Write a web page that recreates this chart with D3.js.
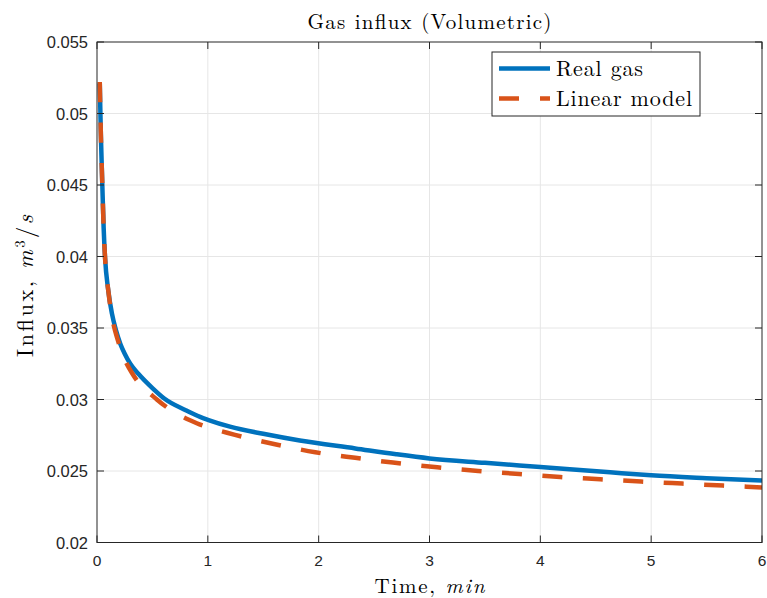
<!DOCTYPE html>
<html><head><meta charset="utf-8">
<script src="https://cdn.jsdelivr.net/npm/d3@7"></script>
<style>body{margin:0;background:#fff}</style>
</head><body>
<svg id="c" width="767" height="598"></svg>
<script>
const realT = [0.025,0.035,0.048,0.06,0.072,0.102,0.135,0.169,0.21,0.25,0.3,0.373,0.5,0.61,0.8,0.93,1.0,1.2,1.5,1.83,2.33,2.7,3.0,3.5,4.0,4.63,5.0,5.5,6.0];
const realY = [0.0521,0.0485,0.045,0.042,0.040,0.0376,0.0360,0.0349,0.0339,0.0332,0.0325,0.0318,0.0308,0.03005,0.02925,0.02878,0.02858,0.0281,0.0276,0.02713,0.02658,0.02617,0.02588,0.02557,0.02528,0.02491,0.02470,0.02450,0.02433];
const linT = [0.025,0.035,0.048,0.06,0.072,0.102,0.135,0.19,0.25,0.32,0.54,0.7,0.9,1.245,1.606,1.97,2.33,2.67,3.07,3.44,3.81,4.18,4.54,4.91,5.28,5.65,6.0];
const linY = [0.0522,0.0485,0.045,0.042,0.0400,0.0376,0.0358,0.0341,0.0328,0.0318,0.0300,0.0291,0.02834,0.02753,0.02687,0.02631,0.02592,0.02559,0.02526,0.0250,0.02479,0.02458,0.02442,0.02426,0.02412,0.02398,0.02385];
const xTicks = [0,1,2,3,4,5,6];
const yTicks = [0.02,0.025,0.03,0.035,0.04,0.045,0.05,0.055];
const yTickLabels = ["0.02","0.025","0.03","0.035","0.04","0.045","0.05","0.055"];
const seriesNames = ["Real gas","Linear model"];
const colors = ["#0072BD","#D95319"];

const svg = d3.select("#c");
const L=97, R=762, T=42, B=542.5;
const x = d3.scaleLinear().domain([0,6]).range([L,R]);
const y = d3.scaleLinear().domain([0.02,0.055]).range([B,T]);
const axisCol = "#262626";

const g = svg.append("g");
g.selectAll(".gx").data(xTicks.slice(1,-1)).join("line")
  .attr("x1",d=>x(d)).attr("x2",d=>x(d)).attr("y1",T).attr("y2",B)
  .attr("stroke","#e6e6e6").attr("stroke-width",1);
g.selectAll(".gy").data(yTicks.slice(1,-1)).join("line")
  .attr("y1",d=>y(d)).attr("y2",d=>y(d)).attr("x1",L).attr("x2",R)
  .attr("stroke","#e6e6e6").attr("stroke-width",1);

svg.append("clipPath").attr("id","clip").append("rect").attr("x",L).attr("y",T).attr("width",R-L).attr("height",B-T);

const line = d3.line().x(d=>x(d[0])).y(d=>y(d[1])).curve(d3.curveMonotoneX);
const realData = realT.map((t,i)=>[t,realY[i]]);
const linData = linT.map((t,i)=>[t,linY[i]]);
svg.append("path").attr("d",line(realData)).attr("fill","none").attr("stroke",colors[0]).attr("stroke-width",4.5).attr("clip-path","url(#clip)");
svg.append("path").attr("d",line(linData)).attr("fill","none").attr("stroke",colors[1]).attr("stroke-width",4.5).attr("stroke-dasharray","20,20.5").attr("clip-path","url(#clip)");

const bx = svg.append("g").attr("fill","none").attr("stroke",axisCol).attr("stroke-width",1);
bx.append("rect").attr("x",L).attr("y",T).attr("width",R-L).attr("height",B-T);
const tl = 7;
bx.selectAll(".tb").data(xTicks).join("line").attr("x1",d=>x(d)).attr("x2",d=>x(d)).attr("y1",B).attr("y2",B-tl);
bx.selectAll(".tt").data(xTicks).join("line").attr("x1",d=>x(d)).attr("x2",d=>x(d)).attr("y1",T).attr("y2",T+tl);
bx.selectAll(".tl").data(yTicks).join("line").attr("y1",d=>y(d)).attr("y2",d=>y(d)).attr("x1",L).attr("x2",L+tl);
bx.selectAll(".tr").data(yTicks).join("line").attr("y1",d=>y(d)).attr("y2",d=>y(d)).attr("x1",R).attr("x2",R-tl);

const tf = "Liberation Sans, Arial, Helvetica, sans-serif";
svg.selectAll(".xl").data(xTicks).join("text").attr("x",d=>x(d)).attr("y",B+23)
  .attr("text-anchor","middle").attr("font-family",tf).attr("font-size",15.5).attr("fill",axisCol).text(d=>d);
svg.selectAll(".yl").data(yTicks).join("text").attr("x",L-9).attr("y",d=>y(d)+6)
  .attr("text-anchor","end").attr("font-family",tf).attr("font-size",16.5).attr("fill",axisCol).text((d,i)=>yTickLabels[i]);

const sf = "Latin Modern Roman, CMU Serif, Liberation Serif, Times New Roman, serif";
svg.append("text").attr("x",(L+R)/2).attr("y",29).attr("text-anchor","middle")
  .attr("font-family",sf).attr("font-size",21).attr("fill","#000")
  .attr("textLength",244).attr("lengthAdjust","spacing").text("Gas influx (Volumetric)");

const xl = svg.append("text").attr("x",(L+R)/2).attr("y",593).attr("text-anchor","middle")
  .attr("font-family",sf).attr("font-size",21).attr("fill","#000")
  .attr("textLength",110).attr("lengthAdjust","spacing");
xl.append("tspan").text("Time, ");
xl.append("tspan").attr("font-style","italic").text("min");

const yl = svg.append("text").attr("transform",`translate(32.5,286) rotate(-90)`).attr("text-anchor","middle")
  .attr("font-family",sf).attr("font-size",22.5).attr("fill","#000")
  .attr("textLength",142).attr("lengthAdjust","spacing");
yl.append("tspan").text("Influx, ");
yl.append("tspan").attr("font-style","italic").text("m");
yl.append("tspan").attr("font-size",15).attr("dy",-8).text("3");
yl.append("tspan").attr("dy",8).text("/");
yl.append("tspan").attr("font-style","italic").text("s");

const lg = svg.append("g");
lg.append("rect").attr("x",492).attr("y",52).attr("width",208).attr("height",64)
  .attr("fill","#fff").attr("stroke",axisCol).attr("stroke-width",1);
const rows=[68.5,98.5];
const lens=[87,136];
seriesNames.forEach((n,i)=>{
  const ln = lg.append("line").attr("x1",499).attr("x2",550).attr("y1",rows[i]).attr("y2",rows[i])
    .attr("stroke",colors[i]).attr("stroke-width",4.5);
  if(i===1) ln.attr("stroke-dasharray","20,21");
  lg.append("text").attr("x",556).attr("y",rows[i]+7).attr("font-family",sf).attr("font-size",22).attr("fill","#000")
    .attr("textLength",lens[i]).attr("lengthAdjust","spacing").text(n);
});
</script>
</body></html>
